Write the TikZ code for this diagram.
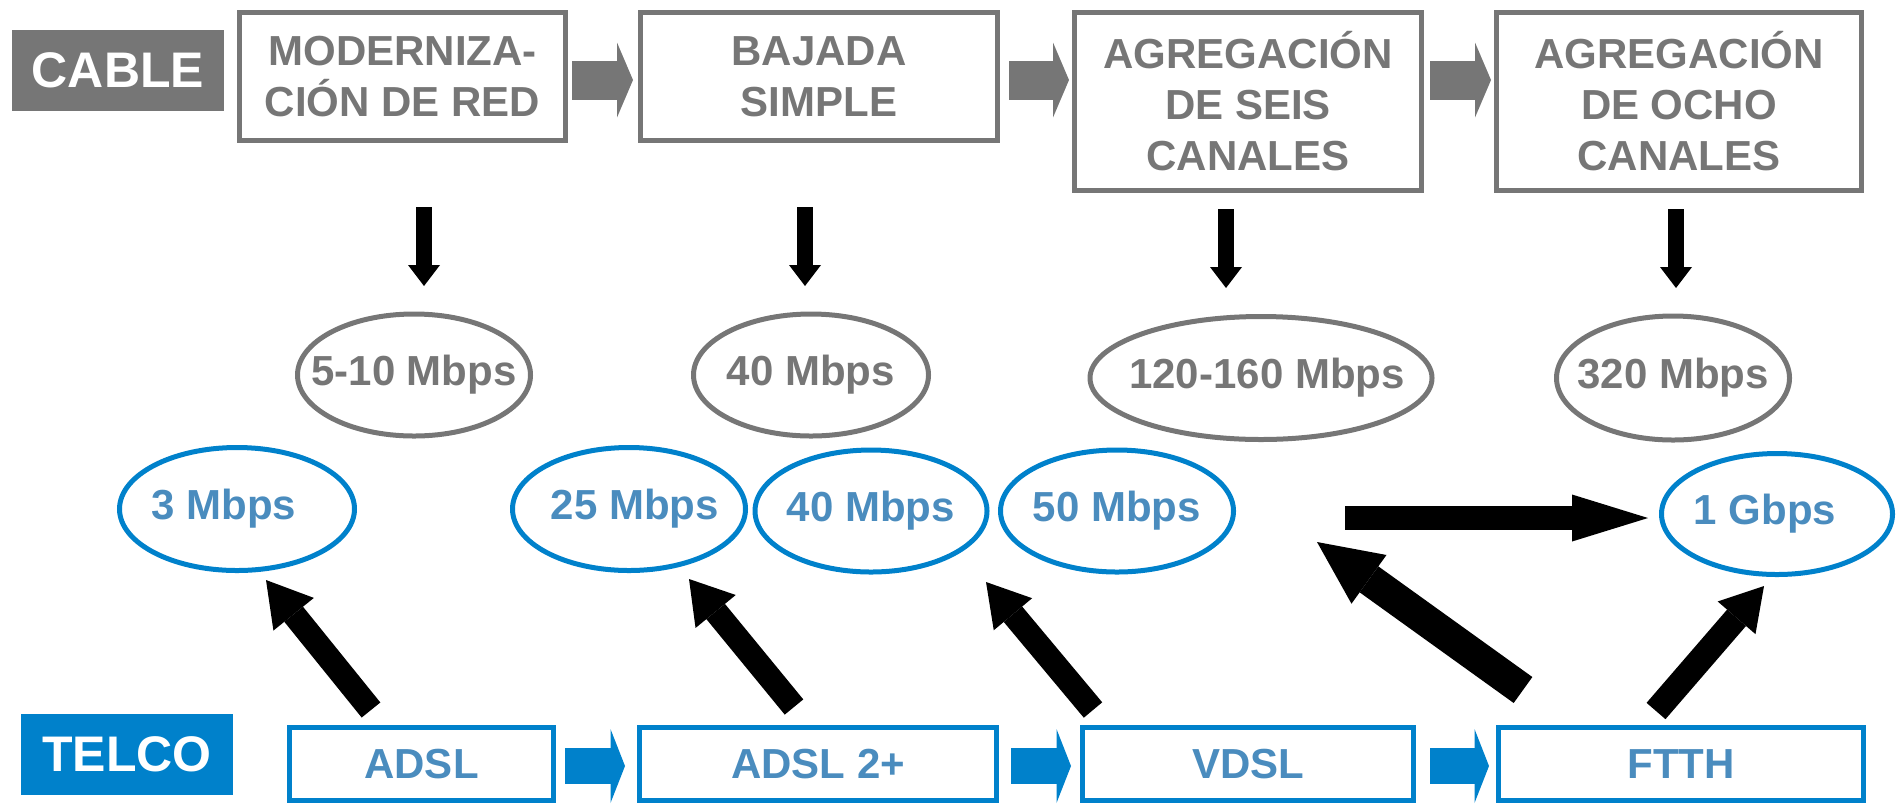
\documentclass[tikz,border=0pt]{standalone}
\usepackage{fontspec}
\setmainfont{Liberation Sans}
\usetikzlibrary{arrows.meta,shapes.geometric,calc}
\definecolor{cgray}{RGB}{118,118,118}
\definecolor{cblue}{RGB}{0,129,203}
\definecolor{tblue}{RGB}{74,140,190}
\newcommand\txtfont{\fontsize{21}{25.5}\selectfont\bfseries}
\newcommand\tagfont{\fontsize{25}{30}\selectfont\bfseries}
\begin{document}
\begin{tikzpicture}[x=0.5pt,y=-0.5pt,
  tagbox/.style={inner sep=0pt,text=white,font=\tagfont,minimum width=106pt,minimum height=40.5pt},
  gbox/.style={draw=cgray,line width=2.5pt,inner sep=0pt,text=cgray,align=center,font=\txtfont},
  bbox/.style={draw=cblue,line width=2.5pt,inner sep=0pt,text=tblue,align=center,font=\txtfont,minimum height=36.5pt},
  gell/.style={draw=cgray,line width=2.5pt,ellipse,inner sep=0pt},
  bell/.style={draw=cblue,line width=2.5pt,ellipse,inner sep=0pt},
  gtext/.style={text=cgray,font=\txtfont,inner sep=0pt},
  btext/.style={text=tblue,font=\txtfont,inner sep=0pt},
  garr/.style={draw=cgray,line width=19.5pt,-{Triangle[length=8pt,width=37.5pt,line width=0pt]}},
  barr/.style={draw=cblue,line width=18pt,-{Triangle[length=7.25pt,width=37pt,line width=0pt]}},
  karr/.style n args={3}{draw=black,line width=#1,-{Triangle[width=#2,length=#3,line width=0pt]}}
]
\useasboundingbox (0,0) rectangle (1898,804);

% top row
\node[tagbox,fill=cgray] (cable) at (118,70.5) {CABLE};
\node[gbox,minimum width=163pt,minimum height=64pt] (m1) at (402.5,76.5) {MODERNIZA-\\CIÓN DE RED};
\node[gbox,minimum width=178.5pt,minimum height=64pt] (m2) at (819,76.5) {BAJADA\\SIMPLE};
\node[gbox,minimum width=173.5pt,minimum height=89pt] (m3) at (1248,101.5) {AGREGACIÓN\\DE SEIS\\CANALES};
\node[gbox,minimum width=182.5pt,minimum height=89pt] (m4) at (1679,101.5) {AGREGACIÓN\\DE OCHO\\CANALES};

\coordinate (trow) at (0,80);
\draw[garr] ($(m1.east |- trow)+(4,0)$) -- ($(m2.west |- trow)+(-5,0)$);
\draw[garr] ($(m2.east |- trow)+(9,0)$) -- ($(m3.west |- trow)+(-3,0)$);
\draw[garr] ($(m3.east |- trow)+(6,0)$) -- ($(m4.west |- trow)+(-3,0)$);

% down arrows
\coordinate (d1s) at (424,207); \coordinate (d1e) at (424,286);
\coordinate (d2s) at (805,207); \coordinate (d2e) at (805,286);
\coordinate (d3s) at (1226,209); \coordinate (d3e) at (1226,288);
\coordinate (d4s) at (1676,209); \coordinate (d4e) at (1676,288);
\foreach \i in {1,2,3,4}{\draw[karr={8pt}{16pt}{10.5pt}] (d\i s) -- (d\i e);}

% gray ellipses
\node[gell,minimum width=116.5pt,minimum height=61pt] (g1) at (414,375) {};
\node[gell,minimum width=117.5pt,minimum height=61pt] (g2) at (811,375) {};
\node[gell,minimum width=171pt,minimum height=61.5pt] (g3) at (1261,378) {};
\node[gell,minimum width=116.5pt,minimum height=62pt] (g4) at (1673,378) {};
\node[gtext] at (g1) {5-10 Mbps};
\node[gtext] at (g2) {40 Mbps};
\node[gtext,xshift=3pt] at (g3) {120-160 Mbps};
\node[gtext] at (g4) {320 Mbps};

% blue ellipses
\node[bell,minimum width=117.5pt,minimum height=61.5pt] (e1) at (237,509) {};
\node[bell,minimum width=116.5pt,minimum height=61.5pt] (e2) at (629,509) {};
\node[bell,minimum width=116pt,minimum height=61pt] (e3) at (871,511) {};
\node[bell,minimum width=116.5pt,minimum height=61pt] (e4) at (1117,511) {};
\node[bell,minimum width=115.5pt,minimum height=60.5pt] (e5) at (1777,514) {};
\node[btext,xshift=-6.5pt] at (e1) {3 Mbps};
\node[btext,xshift=3pt] at (e2) {25 Mbps};
\node[btext] at (e3) {40 Mbps};
\node[btext] at (e4) {50 Mbps};
\node[btext,xshift=-6pt] at (e5) {1 Gbps};

% bottom row
\node[tagbox,fill=cblue] (telco) at (127,754.5) {TELCO};
\node[bbox,minimum width=132pt] (t1) at (421.5,764) {ADSL};
\node[bbox,minimum width=178.5pt] (t2) at (818,764) {ADSL 2+};
\node[bbox,minimum width=165.5pt] (t3) at (1248,764) {VDSL};
\node[bbox,minimum width=182.5pt] (t4) at (1681,764) {FTTH};

\coordinate (brow) at (0,766);
\draw[barr] ($(t1.east |- brow)+(9,0)$) -- ($(t2.west |- brow)+(-12,0)$);
\draw[barr] ($(t2.east |- brow)+(12,0)$) -- ($(t3.west |- brow)+(-9,0)$);
\draw[barr] ($(t3.east |- brow)+(14,0)$) -- ($(t4.west |- brow)+(-7,0)$);

% black arrows
\coordinate (a1s) at (371,710); \coordinate (a1e) at (266,580);
\coordinate (a2s) at (794,707); \coordinate (a2e) at (689,579);
\coordinate (a3s) at (1093,710); \coordinate (a3e) at (986,582);
\coordinate (a4s) at (1523,690); \coordinate (a4e) at (1317,542);
\coordinate (a5s) at (1345,518); \coordinate (a5e) at (1648,518);
\coordinate (a6s) at (1656,711); \coordinate (a6e) at (1764,586);
\draw[karr={12pt}{26pt}{22pt}] (a1s) -- (a1e);
\draw[karr={12pt}{26pt}{21pt}] (a2s) -- (a2e);
\draw[karr={12pt}{25pt}{21pt}] (a3s) -- (a3e);
\draw[karr={16pt}{30pt}{32pt}] (a4s) -- (a4e);
\draw[karr={12pt}{23.5pt}{38pt}] (a5s) -- (a5e);
\draw[karr={12.5pt}{25pt}{21pt}] (a6s) -- (a6e);
\end{tikzpicture}
\end{document}
